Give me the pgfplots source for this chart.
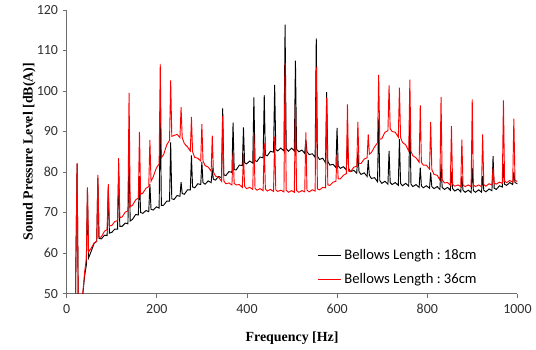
\documentclass[border=0pt]{standalone}
\usepackage{pgfplots}
\pgfplotsset{compat=1.18}
\usepackage{fontspec}
\setmainfont{Carlito}
\newfontfamily\labfont{Liberation Serif}
\definecolor{axgray}{HTML}{6E6E6E}
\definecolor{txtgray}{HTML}{303030}
\definecolor{myred}{HTML}{FF0000}
\begin{document}
\begin{tikzpicture}
\begin{axis}[name=ax, scale only axis, width=339.75pt, height=213.75pt,
  xmin=0, xmax=1000, ymin=50, ymax=120,
  xtick={0,200,400,600,800,1000}, ytick={50,60,70,80,90,100,110,120},
  axis x line*=bottom, axis y line*=left,
  axis line style={-, draw=axgray, line width=0.8pt},
  tick align=outside, major tick length=3pt,
  tick style={draw=axgray, line width=0.6pt},
  /pgf/number format/assume math mode=true,
  /pgf/number format/1000 sep={},
  ticklabel style={font=\fontsize{10.5}{12}\selectfont, text=txtgray},
  xticklabel style={yshift=-1.5pt},
  xlabel={\labfont\bfseries Frequency [Hz]},
  ylabel={\labfont\bfseries Sound Pressure Level [dB(A)]},
  xlabel style={font=\fontsize{10.5}{12}\selectfont, yshift=-7pt},
  ylabel style={font=\fontsize{10.5}{12}\selectfont, yshift=-6pt},
  legend style={draw=none, fill=none, at={(0.736,0.0912)}, anchor=center,
    font=\fontsize{11}{13}\selectfont\frenchspacing, row sep=5pt},
  legend image post style={line width=1.1pt},
  legend cell align=left,
  clip=true]
\addplot[black, line width=0.7pt] coordinates {
(19,44) (23.1,82) (26,44) (31,46) (35,49) (40,54.5)
(43.6,57) (46.1,75.5) (48.6,58.8) (54,60.3) (61,62.4) (66.7,62.9)
(69.2,78.5) (71.7,63.6) (77,63.5) (84,64.4) (89.8,64.3)
(92.3,76) (94.8,64.9) (100,65.1) (107,65.9) (112.9,65.9)
(115.4,80) (117.9,66.6) (123,66.6) (130,67.4) (135.9,67.2)
(138.4,84) (140.9,67.9) (146,68.3) (153,69.5) (159,69.4)
(161.5,79) (164,70.0) (169,69.8) (176,70.5) (182.1,70.2)
(184.6,77) (187.1,70.8) (192,70.6) (199,71.4) (205.1,71.1)
(207.6,95.9) (210.1,71.7) (215,71.8) (222,72.8) (228.2,72.8)
(230.7,87.3) (233.2,73.4) (238,73.2) (245,74.2) (251.3,74.0)
(253.8,77.5) (256.3,74.7) (261,74.5) (268,75.6) (274.3,75.6)
(276.8,84.1) (279.3,76.3) (284,76.1) (291,77.1) (297.4,76.9)
(299.9,82.5) (302.4,77.4) (307,77.0) (314,77.8) (320.5,77.4)
(323,80.5) (325.5,78.2) (330,78.0) (337,78.9) (343.6,78.6)
(346.1,95.7) (348.6,79.3) (353,79.1) (360,80.1) (366.6,79.9)
(369.1,92.2) (371.6,80.6) (376,80.5) (383,81.7) (389.7,81.6)
(392.2,91.0) (394.7,82.3) (399,82.0) (406,82.7) (412.8,82.2)
(415.3,98.4) (417.8,82.8) (422,82.6) (429,83.7) (435.8,83.5)
(438.3,99.0) (440.8,84.2) (445,84.0) (452,85.1) (458.9,84.9)
(461.4,101.5) (463.9,85.6) (468,85.2) (475,85.9) (482,85.2)
(484.5,116.4) (487,85.8) (492,85.1) (499,85.9) (505,85.2)
(507.5,107.5) (510,85.6) (515,85.0) (522,85.4) (528.1,84.6)
(530.6,88) (533.1,85.0) (538,84.3) (545,84.5) (551.2,83.6)
(553.7,113.0) (556.2,83.9) (561,83.1) (568,83.4) (574.3,82.3)
(576.8,99.7) (579.3,82.6) (584,81.7) (591,81.9) (597.3,81.1)
(599.8,90.9) (602.3,81.5) (607,80.9) (614,81.3) (620.4,80.5)
(622.9,88) (625.4,80.8) (630,80.1) (637,80.4) (643.5,79.7)
(646,85) (648.5,80.1) (653,79.4) (660,79.8) (666.5,78.9)
(669,83) (671.5,79.2) (676,78.4) (683,78.6) (689.6,77.6)
(692.1,93.0) (694.6,77.9) (699,77.2) (706,77.7) (712.7,77.0)
(715.2,85.2) (717.7,77.4) (722,76.9) (729,77.4) (735.7,76.7)
(738.2,88.1) (740.7,77.2) (745,76.6) (752,77.2) (758.8,76.5)
(761.3,93.6) (763.8,77.0) (768,76.4) (775,76.9) (781.9,76.2)
(784.4,81.1) (786.9,76.6) (791,76.1) (798,76.6) (805,76.0)
(807.5,79.9) (810,76.4) (815,75.9) (822,76.4) (828,75.7)
(830.5,82) (833,76.2) (838,75.7) (845,76.2) (851.1,75.5)
(853.6,80) (856.1,75.9) (861,75.3) (868,75.8) (874.2,75.1)
(876.7,79) (879.2,75.5) (884,75.0) (891,75.5) (897.2,74.9)
(899.7,81) (902.2,75.4) (907,75.0) (914,75.6) (920.3,75.0)
(922.8,79) (925.3,75.5) (930,75.1) (937,75.8) (943.4,75.4)
(945.9,83.9) (948.4,76.0) (953,75.7) (960,76.6) (966.4,76.3)
(968.9,82) (971.4,77.0) (976,76.7) (983,77.4) (989.5,76.9)
(992,80) (994.5,77.4) (1000,77.1)
};
\addlegendentry{Bellows Length : 18cm}
\addplot[myred, line width=0.7pt] coordinates {
(19,44) (23.1,82.2) (26,44) (31,46) (35,49) (40,55.5)
(43.6,58.5) (46.1,76.2) (48.6,60.3) (54,61.1) (61,62.5) (66.7,62.9)
(69.2,79.3) (71.7,63.8) (77,64.0) (84,65.4) (89.8,65.8)
(92.3,77.0) (94.8,66.7) (100,66.8) (107,67.8) (112.9,68.0)
(115.4,83.4) (117.9,68.7) (123,68.9) (130,70.1) (135.9,70.4)
(138.4,99.5) (140.9,71.4) (146,71.8) (153,73.1) (159,73.6)
(161.5,89.9) (164,74.5) (169,74.8) (176,76.0) (182.1,76.4)
(184.6,87.9) (187.1,77.7) (192,78.8) (199,81.0) (205.1,82.0)
(207.6,106.7) (210.1,83.5) (215,84.3) (222,86.7) (228.2,87.8)
(230.7,102.6) (233.2,88.8) (238,89.0) (245,89.3) (251.3,88.5)
(253.8,96.0) (256.3,88.5) (261,87.0) (268,86.2) (274.3,85.2)
(276.8,93.6) (279.3,85.0) (284,83.6) (291,83.4) (297.4,82.7)
(299.9,91.8) (302.4,82.8) (307,81.6) (314,81.2) (320.5,80.2)
(323,89.0) (325.5,80.0) (330,79.0) (337,78.7) (343.6,77.7)
(346.1,93.8) (348.6,77.8) (353,77.1) (360,77.3) (366.6,76.8)
(369.1,84.8) (371.6,77.2) (376,76.8) (383,76.9) (389.7,76.2)
(392.2,84.4) (394.7,76.5) (399,75.9) (406,76.2) (412.8,75.7)
(415.3,89.2) (417.8,76.0) (422,75.5) (429,75.9) (435.8,75.4)
(438.3,87.2) (440.8,75.8) (445,75.3) (452,75.7) (458.9,75.2)
(461.4,88.7) (463.9,75.6) (468,75.2) (475,75.5) (482,75.1)
(484.5,106.9) (487,75.5) (492,75.0) (499,75.4) (505,75.0)
(507.5,96.7) (510,75.4) (515,75.0) (522,75.4) (528.1,75.1)
(530.6,89.8) (533.1,75.5) (538,75.1) (545,75.6) (551.2,75.3)
(553.7,106.0) (556.2,75.8) (561,75.6) (568,76.2) (574.3,76.1)
(576.8,98.3) (579.3,76.8) (584,76.7) (591,77.5) (597.3,77.7)
(599.8,84.4) (602.3,78.3) (607,78.3) (614,79.2) (620.4,79.6)
(622.9,96.7) (625.4,80.2) (630,80.1) (637,81.2) (643.5,81.4)
(646,92.4) (648.5,82.1) (653,82.1) (660,83.2) (666.5,83.5)
(669,89.3) (671.5,84.4) (676,84.8) (683,86.2) (689.6,87.2)
(692.1,104.0) (694.6,88.1) (699,88.2) (706,89.8) (712.7,90.2)
(715.2,101.4) (717.7,90.7) (722,90.0) (729,89.8) (735.7,88.6)
(738.2,100.8) (740.7,88.5) (745,87.3) (752,86.7) (758.8,85.2)
(761.3,102.8) (763.8,85.1) (768,84.0) (775,83.5) (781.9,82.4)
(784.4,96.5) (786.9,82.4) (791,81.7) (798,81.7) (805,80.7)
(807.5,92.3) (810,80.6) (815,79.4) (822,79.2) (828,78.0)
(830.5,98.5) (833,78.1) (838,77.3) (845,77.4) (851.1,76.7)
(853.6,91.3) (856.1,77.0) (861,76.5) (868,76.8) (874.2,76.4)
(876.7,88.0) (879.2,76.8) (884,76.4) (891,76.8) (897.2,76.4)
(899.7,97.9) (902.2,76.8) (907,76.4) (914,76.8) (920.3,76.4)
(922.8,89.3) (925.3,76.9) (930,76.5) (937,77.1) (943.4,76.8)
(945.9,81.1) (948.4,77.3) (953,77.0) (960,77.5) (966.4,77.2)
(968.9,97.7) (971.4,77.7) (976,77.4) (983,77.9) (989.5,77.5)
(992,93.2) (994.5,78.0) (1000,77.6)
};
\addlegendentry{Bellows Length : 36cm}
\end{axis}
\path ([xshift=-50.25pt,yshift=-42pt]ax.south west) rectangle ([xshift=12pt,yshift=7.5pt]ax.north east);
\end{tikzpicture}
\end{document}
